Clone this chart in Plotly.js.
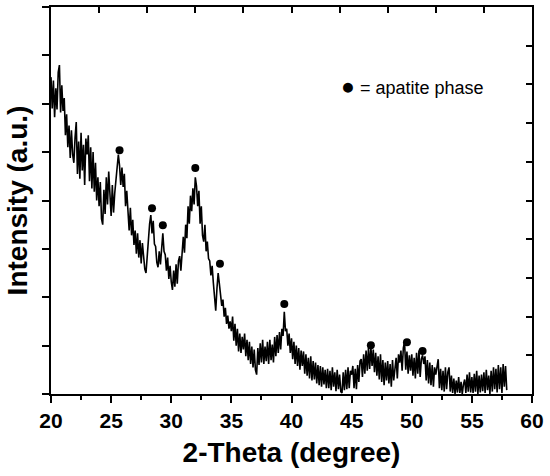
<!DOCTYPE html>
<html>
<head>
<meta charset="utf-8">
<script src="https://cdn.plot.ly/plotly-3.0.1.min.js"></script>
<style>html,body{margin:0;padding:0;background:#fff}#chart{width:550px;height:476px}</style>
</head>
<body>
<div id="chart"></div>
<script>
// Scan settings (2-theta start and step, degrees)
const scanStart = 20.0;
const scanStep = 0.1;

const intensity = [
  655, 590, 648, 572, 632, 588, 665, 680, 582, 638,
  585, 612, 535, 578, 510, 555, 488, 545, 495, 478,
  530, 562, 455, 522, 445, 540, 462, 515, 432, 528,
  495, 535, 440, 510, 425, 500, 418, 478, 400, 448,
  388, 438, 362, 350, 422, 372, 448, 392, 460, 402,
  368, 432, 375, 415, 440, 462, 495, 472, 432, 468,
  428, 455, 388, 420, 362, 338, 385, 328, 360, 308,
  338, 290, 332, 282, 318, 270, 312, 275, 258, 250,
  282, 330, 352, 370, 332, 358, 310, 305, 272, 262,
  295, 268, 312, 332, 295, 288, 255, 282, 238, 265,
  232, 215, 255, 222, 268, 228, 275, 285, 255, 300,
  325, 292, 350, 322, 388, 352, 410, 378, 425, 392,
  448, 430, 388, 420, 352, 388, 328, 315, 350, 295,
  315, 280, 275, 245, 265, 230, 195, 172, 218, 250,
  228, 195, 182, 195, 160, 178, 145, 162, 135, 150,
  130, 160, 110, 145, 100, 135, 88, 125, 85, 118,
  92, 125, 78, 112, 70, 108, 62, 98, 55, 92,
  50, 40, 95, 60, 105, 65, 112, 62, 98, 68,
  108, 62, 112, 70, 102, 65, 118, 78, 122, 85,
  128, 92, 135, 120, 170, 130, 135, 100, 125, 85,
  115, 72, 108, 62, 100, 58, 95, 50, 90, 58,
  88, 42, 82, 38, 75, 32, 78, 28, 68, 30,
  65, 22, 60, 18, 58, 15, 55, 20, 50, 12,
  52, 12, 48, 8, 55, 15, 45, 6, 50, 10,
  40, 5, 2, 45, 8, 50, 10, 55, 12, 48,
  40, 58, 12, 52, 10, 60, 25, 68, 72, 35,
  82, 42, 90, 48, 95, 52, 98, 58, 92, 45,
  85, 38, 78, 30, 82, 25, 70, 18, 65, 28,
  68, 22, 62, 15, 70, 28, 60, 75, 32, 82,
  65, 90, 48, 95, 108, 50, 88, 42, 80, 48,
  82, 38, 75, 32, 85, 42, 90, 35, 72, 80,
  62, 78, 28, 70, 22, 65, 18, 60, 15, 55,
  40, 60, 72, 12, 52, 8, 48, 5, 55, 10,
  45, 55, 5, 38, 2, 32, 0, 28, 3, 35,
  2, 25, 0, 20, 30, 2, 40, 5, 45, 3,
  35, 2, 42, 5, 48, 0, 38, 3, 40, 6,
  45, 2, 50, 8, 38, 0, 48, 5, 55, 10,
  52, 3, 60, 10, 55, 2, 62, 15, 58, 8
];

// Apatite phase peak markers
const peakX = [25.7, 28.4, 29.3, 32.0, 34.05, 39.4, 46.6, 49.6, 50.9];
const peakY = [504, 384, 349, 467, 269, 186, 101, 107, 89];

const legendText = '<span style="font-size:23px">\u25CF</span> = apatite phase';
const xTitle = "2-Theta (degree)";
const yTitle = "Intensity (a.u.)";

const twoTheta = intensity.map((_, i) => +(scanStart + i * scanStep).toFixed(2));

const FONT = "Arial, 'Liberation Sans', sans-serif";

const traces = [
  {x: twoTheta, y: intensity, type: 'scatter', mode: 'lines',
   line: {color: '#000', width: 1.6}, showlegend: false, hoverinfo: 'skip'},
  {x: peakX, y: peakY, type: 'scatter', mode: 'markers',
   marker: {color: '#000', size: 8, symbol: 'circle'}, showlegend: false},
  {x: [], y: [], xaxis: 'x2', yaxis: 'y2', type: 'scatter', mode: 'lines', showlegend: false}
];

const layout = {
  width: 550, height: 476,
  margin: {l: 51, r: 18, t: 7, b: 82},
  paper_bgcolor: '#fff', plot_bgcolor: '#fff',
  showlegend: false,
  xaxis: {
    range: [20, 60], tick0: 20, dtick: 5, ticks: 'outside', ticklen: 7, tickwidth: 2,
    tickcolor: '#000', showline: true, linewidth: 2, linecolor: '#000',
    showgrid: false, zeroline: false,
    tickfont: {family: FONT, size: 21, color: '#000', weight: 'bold'},
    minor: {dtick: 2.5, tick0: 20, ticks: 'outside', ticklen: 4, tickwidth: 2, tickcolor: '#000', showgrid: false},
    title: {text: xTitle, font: {family: FONT, size: 28, color: '#000', weight: 'bold'}, standoff: 11}
  },
  yaxis: {
    range: [0, 800], tick0: 0, dtick: 100, ticks: 'outside', ticklen: 7, tickwidth: 2,
    tickcolor: '#000', showline: true, linewidth: 2, linecolor: '#000',
    showgrid: false, zeroline: false, showticklabels: false,
    title: {text: yTitle, font: {family: FONT, size: 28, color: '#000', weight: 'bold'}, standoff: 6}
  },
  xaxis2: {
    overlaying: 'x', side: 'top', anchor: 'y2', range: [20, 60], tick0: 20, dtick: 4,
    ticks: 'inside', ticklen: 6, tickwidth: 2, tickcolor: '#000',
    showline: true, linewidth: 2, linecolor: '#000', showgrid: false, zeroline: false,
    showticklabels: false
  },
  yaxis2: {
    overlaying: 'y', side: 'right', anchor: 'x2', range: [0, 10], tick0: 0, dtick: 1,
    ticks: 'inside', ticklen: 6, tickwidth: 2, tickcolor: '#000',
    showline: true, linewidth: 2, linecolor: '#000', showgrid: false, zeroline: false,
    showticklabels: false
  },
  annotations: [
    {xref: 'paper', yref: 'paper', x: (339 - 51) / 481, y: (394 - 86) / 387,
     xanchor: 'left', yanchor: 'middle', showarrow: false, text: legendText,
     font: {family: FONT, size: 18, color: '#000'}}
  ]
};

Plotly.newPlot('chart', traces, layout, {staticPlot: true, displayModeBar: false});
</script>
</body>
</html>
